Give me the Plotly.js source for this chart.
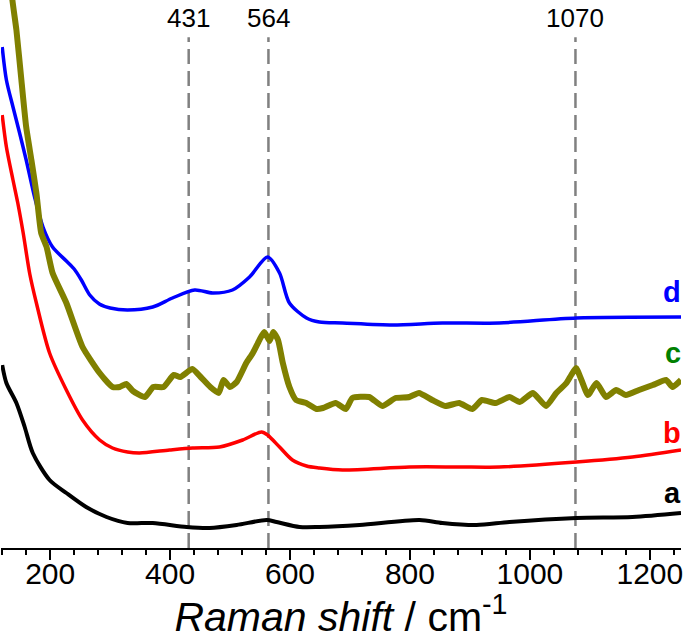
<!DOCTYPE html>
<html>
<head>
<meta charset="utf-8">
<script src="https://cdn.plot.ly/plotly-3.0.1.min.js"></script>
<style>html,body{margin:0;padding:0;background:#fff;}#chart{width:685px;height:640px;}</style>
</head>
<body>
<div id="chart"></div>
<script>
// Raman shift (cm^-1) and relative intensity (arbitrary units, offset spectra)
const xA = [120,127,143.7,157.5,171,199,227,260,294,329,371,427.5,466,511,561,577.5,616,649,716,816,854,911,966,1077.5,1171,1252];
const yA = [183,165,145,121,95,68,55,41,31,25,25,21,20,23,28,26,21,21,23,28,25,23,26,30,31,35];

const xB = [120,127,138,146,155,166,177,199,227,254,282.5,304,329,349,399,437.5,482.5,521,552.5,562.5,582.5,604,627.5,649,687.5,799,882.5,949,1077.5,1171,1252];
const yB = [433,401,368,345,315,274,245,195,158,128,108,100,96,95,98,100,101,108,116,113,101,88,82,80,78,81,81,81,86,91,98];

const xC = [130,137,143.7,152,160,168.7,177,185,194,204,227,254,282.5,304,316,327,338,358,372,389,406,417,437,451,467,481,489,500,511,527,538,549,557,566,572,580,588,599,610,627,644,655,676,693,704,732,754,776,799,815,837,859,882,904,920,943,966,983,1005,1027,1044,1061,1069,1077,1086,1097,1111,1127,1144,1160,1182,1205,1227,1238,1252];
const yC = [600,548,518,468,421,388,355,315,301,275,245,201,175,161,161,164,157,151,161,161,173,171,179,171,161,155,168,161,166,185,195,208,216,207,216,208,185,161,148,145,139,140,145,139,150,151,142,150,151,155,148,142,145,139,148,145,151,146,155,142,155,165,173,180,168,153,165,151,158,153,158,163,168,161,168];

const xD = [120,127,138,149,160,174,188,204,227,240,252,266,282,300,329,371,404,441,471,504,532.5,562.5,582.5,599,627.5,649,687.5,771,854,949,1077.5,1252];
const yD = [501,468,441,415,388,351,321,301,287,279,268,253,244,240,238,241,250,258,255,258,271,291,275,245,230,226,225,223,225,225,230,231];

const seriesLabels = ['a','b','c','d'];
const labelY = [55,115,195,256];
const peakPos = [431,564,1076];
const peakText = ['431','564','1070'];

const FONT = 'Arial, "Liberation Sans", sans-serif';

const traces = [
  {x:xA, y:yA, mode:'lines', line:{color:'#000000', width:4, shape:'spline', smoothing:0.8}},
  {x:xB, y:yB, mode:'lines', line:{color:'#ff0000', width:3.5, shape:'spline', smoothing:0.8}},
  {x:xD, y:yD, mode:'lines', line:{color:'#0000ff', width:3.5, shape:'spline', smoothing:0.8}},
  {x:xC, y:yC, mode:'lines', line:{color:'#808000', width:6, shape:'spline', smoothing:0.5}}
];

const labelColors = ['#000000','#ff0000','#008000','#0000ff'];
const annotations = [];
seriesLabels.forEach((t,i)=>{
  annotations.push({x:1, xref:'paper', y:labelY[i], yref:'y', text:'<b>'+t+'</b>',
    showarrow:false, xanchor:'right', yanchor:'middle', xshift:2,
    font:{family:FONT, size:29, color:labelColors[i]}});
});
peakPos.forEach((p,i)=>{
  annotations.push({x:p, xref:'x', y:0.968, yref:'paper', text:peakText[i],
    showarrow:false, xanchor:'center', yanchor:'middle',
    font:{family:FONT, size:26, color:'#000000'}});
});

const shapes = peakPos.map(p=>({type:'line', xref:'x', yref:'paper', x0:p, x1:p, y0:0, y1:0.932,
  layer:'below', line:{color:'#808080', width:2.5, dash:'15px,7px'}}));

const layout = {
  width:685, height:640,
  margin:{l:1, r:4, t:0, b:92},
  paper_bgcolor:'#ffffff', plot_bgcolor:'#ffffff',
  showlegend:false,
  xaxis:{
    range:[118,1252], showgrid:false, zeroline:false,
    showline:true, linecolor:'#000000', linewidth:2,
    ticks:'outside', ticklen:10, tickwidth:2, tickcolor:'#000000',
    tick0:0, dtick:200, ticklabelstandoff:-12,
    minor:{ticks:'outside', tick0:0, dtick:40, ticklen:5, tickwidth:2, tickcolor:'#000000', showgrid:false},
    tickfont:{family:FONT, size:30, color:'#000000'},
    title:{text:'<i>Raman shift</i> / cm<sup>-1</sup>', font:{family:FONT, size:41, color:'#000000'}, standoff:8}
  },
  yaxis:{range:[0,548], visible:false, showgrid:false, zeroline:false},
  annotations:annotations,
  shapes:shapes
};

Plotly.newPlot('chart', traces, layout, {displayModeBar:false, staticPlot:true});
</script>
</body>
</html>
